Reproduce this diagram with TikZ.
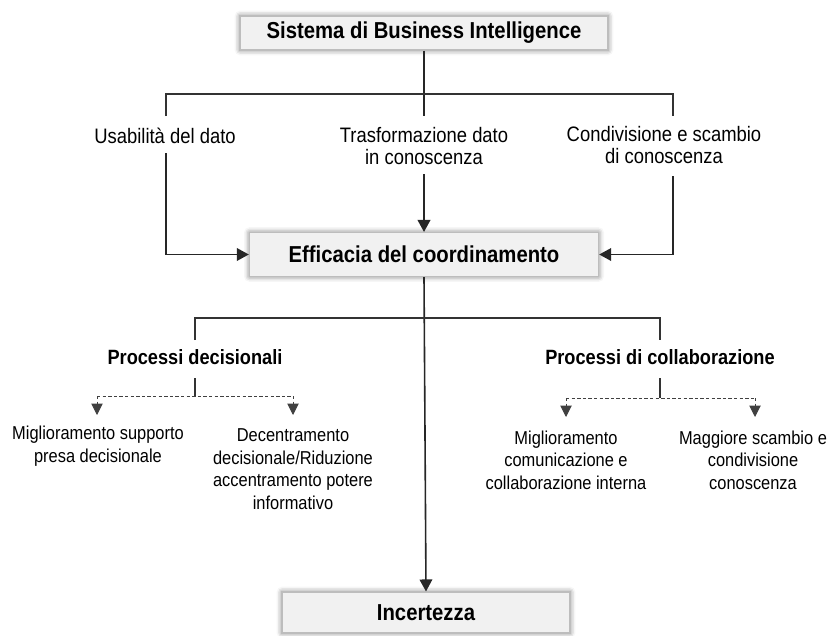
\documentclass[tikz,border=0pt]{standalone}
\usepackage{fontspec}
\setmainfont{Liberation Sans}[FakeStretch=0.88]
\usetikzlibrary{arrows.meta,shadows.blur}
\definecolor{boxfill}{HTML}{F1F1F1}
\definecolor{boxedge}{HTML}{BDBDBD}
\begin{document}
\begin{tikzpicture}[x=0.75pt,y=-0.75pt,
  mainbox/.style={fill=boxfill, draw=boxedge, line width=0.8pt,
    blur shadow={shadow xshift=0pt, shadow yshift=0pt, shadow blur radius=4pt, shadow opacity=55},
    font=\fontsize{17.3}{20}\selectfont\bfseries, inner sep=0pt},
  toplbl/.style={align=center, font=\fontsize{15.7}{16.5}\selectfont, inner sep=0pt},
  lbl/.style={align=center, font=\fontsize{14}{16.9}\selectfont, inner sep=0pt},
  head/.style={align=center, font=\fontsize{15.5}{18}\selectfont\bfseries, inner sep=0pt},
  trunk/.style={line width=1.2pt, draw=black!85},
  bus/.style={line width=0.8pt, draw=black!80},
  dbus/.style={line width=0.7pt, draw=black!75, dash pattern=on 2.6pt off 1.6pt},
  arr/.style={-{Triangle[width=9.5pt,length=9pt]}},
  darr/.style={-{Triangle[width=8.5pt,length=8.5pt]}}
]
\useasboundingbox (0,0) rectangle (827,635);

% boxes
\node[mainbox, minimum width=276pt, minimum height=25.5pt] (bi) at (424,33) {Sistema di Business Intelligence};
\node[mainbox, minimum width=262pt, minimum height=33pt] (eff) at (424,254.5) {Efficacia del coordinamento};
\node[mainbox, minimum width=216pt, minimum height=30.75pt] (inc) at (426,612.5) {Incertezza};

% top labels
\node[toplbl] (usab) at (165,135.5) {Usabilità del dato};
\node[toplbl] (trasf) at (424,146) {Trasformazione dato\\in conoscenza};
\node[toplbl] (cond) at (664,145) {Condivisione e scambio\\di conoscenza};

% coordinates for the upper bus
\coordinate (hub1) at (424,94);
\coordinate (lt1) at (166,116);
\coordinate (mt1) at (424,116);
\coordinate (rt1) at (673,116);
\coordinate (lb1) at (166,153);
\coordinate (mb1) at (424,174);
\coordinate (rb1) at (673,176);

\draw[trunk] (bi.south) -- (mt1);
\draw[bus] (lt1) |- (hub1) -| (rt1);
\draw[trunk, arr] (lb1) |- (eff.west);
\draw[trunk, arr] (mb1) -- (eff.north);
\draw[trunk, arr] (rb1) |- (eff.east);

% main trunk to Incertezza
\draw[trunk, arr] (eff.south) -- (inc.north);

% middle bus
\coordinate (hub2) at (424,318);
\coordinate (lt2) at (195,340);
\coordinate (rt2) at (660,340);
\draw[bus] (lt2) |- (hub2) -| (rt2);

\node[head] (pdec) at (195,357) {Processi decisionali};
\node[head] (pcol) at (660,357) {Processi di collaborazione};

% decision sub-branches
\coordinate (dtop) at (195,378);
\coordinate (dhub) at (195,396);
\coordinate (dl) at (97,396);
\coordinate (dr) at (293,396);
\coordinate (dlt) at (97,415);
\coordinate (drt) at (293,415);
\draw[bus] (dtop) -- (dhub);
\draw[dbus] (dl) -- (dr);
\draw[dbus, darr] (dl) -- (dlt);
\draw[dbus, darr] (dr) -- (drt);

\node[lbl] (mig1) at (98,446) {Miglioramento supporto\\presa decisionale};
\node[lbl] (dece) at (293,469) {Decentramento\\decisionale/Riduzione\\accentramento potere\\informativo};

% collaboration sub-branches
\coordinate (ctop) at (660,378);
\coordinate (chub) at (660,398);
\coordinate (cl) at (566,398);
\coordinate (cr) at (755,398);
\coordinate (clt) at (566,417);
\coordinate (crt) at (755,417);
\draw[bus] (ctop) -- (chub);
\draw[dbus] (cl) -- (cr);
\draw[dbus, darr] (cl) -- (clt);
\draw[dbus, darr] (cr) -- (crt);

\node[lbl] (mig2) at (566,460) {Miglioramento\\comunicazione e\\collaborazione interna};
\node[lbl] (magg) at (753,460) {Maggiore scambio e\\condivisione\\conoscenza};
\end{tikzpicture}
\end{document}
